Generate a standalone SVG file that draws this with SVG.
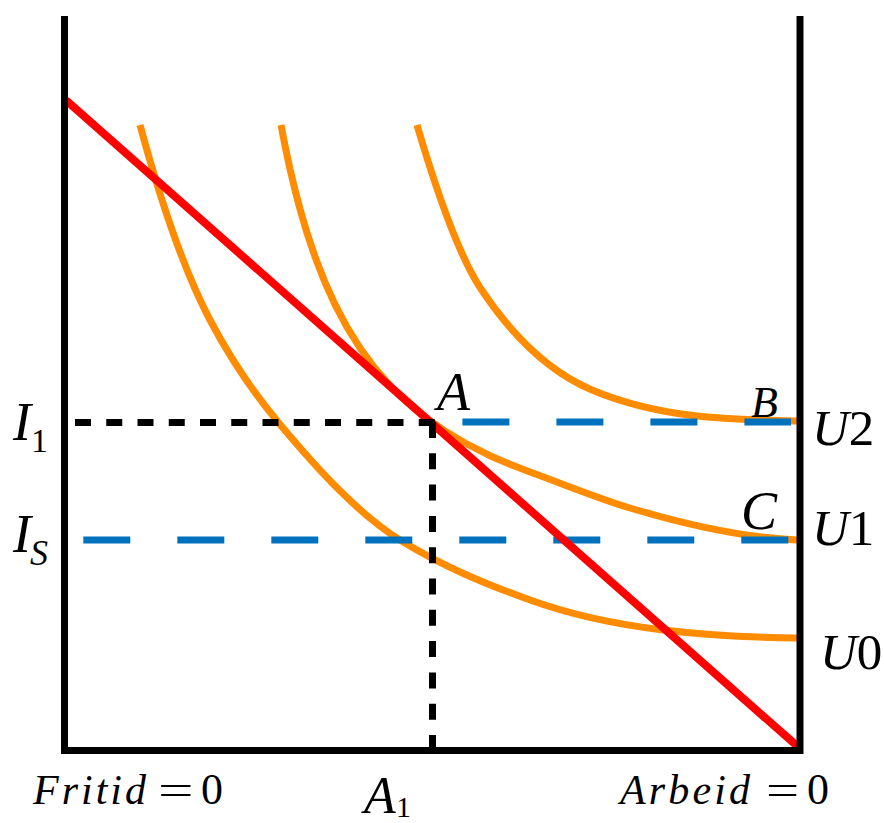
<svg xmlns="http://www.w3.org/2000/svg" width="884" height="823" viewBox="0 0 884 823">
<style>
.u{fill:none;stroke:#FF8C00;stroke-width:7;stroke-linecap:butt;stroke-linejoin:round}
.blue{stroke:#0072BD;stroke-width:7;stroke-dasharray:47 47;fill:none}
.dot{stroke:#000;stroke-width:7;fill:none}
.budget{stroke:#FF0000;stroke-width:8;fill:none}
.frame{stroke:#000;stroke-width:7;fill:none;stroke-linejoin:miter}
text{font-family:"Liberation Serif","Times New Roman",serif;fill:#000}
.it{font-style:italic}
.up{font-style:normal}
</style>
<rect width="884" height="823" fill="#fff"/>
<g id="curves">
<path id="U0" class="u" d="M140,125 C163.33,211.33 186.67,275.67 210,320 C232.67,363.07 255.33,394.8 278,422 C318.67,470.8 359.33,514.8 400,540 C443.33,566.87 486.67,584.4 530,600 C574.33,615.96 618.67,624.68 663,630 C707.67,635.36 752.33,637.55 797,638"/>
<path id="U1" class="u" d="M281,125 L285,145.6 L290,169 L295,190 L300,209 L307,232.9 L315,256.7 L325,282.4 L335,304.5 L347,327.1 L360,348 L375,368.3 L390,385.5 L405,400.3 L425,417 L445,431 L465,443 L490,455.7 L510,464.2 L530,472 C563.33,484 596.67,498 630,508 C685.67,524.7 741.33,537.77 797,540"/>
<path id="U2" class="u" d="M417,125 C438.33,197.53 459.67,257 481,289 C518,344.5 555,374.46 592,390 C660.33,418.7 728.67,419.63 797,421"/>
</g>
<g id="connectors">
<line class="blue" x1="462.4" y1="422" x2="791" y2="422"/>
<line class="blue" x1="83.3" y1="540" x2="790" y2="540"/>
<line id="budget" class="budget" x1="66" y1="100.2" x2="800" y2="748.6"/>
<line class="dot" x1="75" y1="422.5" x2="435" y2="422.5" stroke-dasharray="16 15.25"/>
<line class="dot" x1="432.5" y1="422" x2="432.5" y2="750" stroke-dasharray="16 15.3"/>
</g>
<g id="frame">
<path class="frame" d="M64.5,16 V750.5 H800 V16"/>
</g>
<g id="labels">
<g id="label-I1"><text class="it" x="13" y="440" font-size="54">I</text><text class="up" x="31" y="451.5" font-size="34">1</text></g>
<g id="label-IS"><text class="it" x="13" y="552" font-size="54">I</text><text class="it" x="30" y="565" font-size="36">S</text></g>
<g id="label-A"><text class="it" x="437" y="410" font-size="54">A</text></g>
<g id="label-B"><text class="it" x="751" y="417" font-size="44">B</text></g>
<g id="label-C"><text class="it" x="741" y="529" font-size="54">C</text></g>
<g id="label-U2"><text x="812" y="445" font-size="51"><tspan class="it">U</tspan><tspan class="up">2</tspan></text></g>
<g id="label-U1"><text x="812" y="545" font-size="51"><tspan class="it">U</tspan><tspan class="up">1</tspan></text></g>
<g id="label-U0"><text x="820" y="669" font-size="51"><tspan class="it">U</tspan><tspan class="up">0</tspan></text></g>
<g id="label-fritid">
<text class="it" x="33" y="804" font-size="42" textLength="113" lengthAdjust="spacing">Fritid</text>
<text class="up" font-size="42" transform="translate(158,804) scale(1.5,1)">=</text>
<text class="up" x="201" y="804" font-size="44">0</text>
</g>
<g id="label-A1"><text class="it" x="364" y="813" font-size="52">A</text><text class="up" x="396" y="817" font-size="30">1</text></g>
<g id="label-arbeid">
<text class="it" x="620" y="804" font-size="42" textLength="130" lengthAdjust="spacing">Arbeid</text>
<text class="up" font-size="42" transform="translate(766,804) scale(1.4,1)">=</text>
<text class="up" x="807" y="804" font-size="44">0</text>
</g>
</g>
</svg>
